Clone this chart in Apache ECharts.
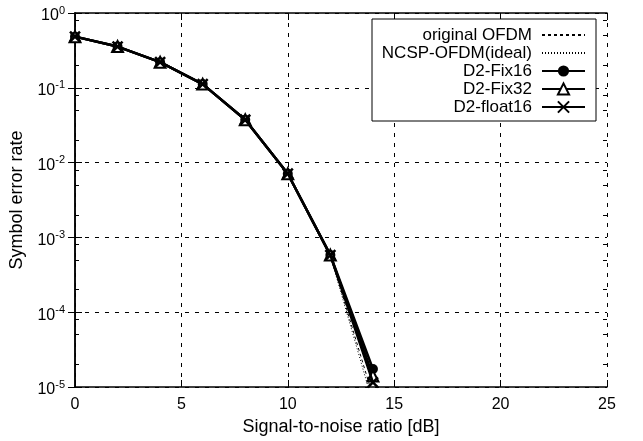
<!DOCTYPE html>
<html>
<head>
<meta charset="utf-8">
<script src="https://cdn.jsdelivr.net/npm/echarts@6/dist/echarts.min.js"></script>
<style>html,body{margin:0;padding:0;background:#fff}#c{width:643px;height:441px}</style>
</head>
<body>
<div id="c"></div>
<script>
// ---- data ----
const snr = [0, 2, 4, 6, 8, 10, 12, 14];
const originalOFDM = [0.483, 0.356, 0.220, 0.112, 0.0374, 0.0071, 5.8e-4, 7.5e-6];
const ncspIdeal    = [0.483, 0.356, 0.220, 0.112, 0.0374, 0.0071, 5.7e-4, 6.0e-6];
const d2Fix16      = [0.483, 0.356, 0.220, 0.112, 0.0374, 0.0071, 5.8e-4, 1.74e-5];
const d2Fix32      = [0.483, 0.356, 0.220, 0.112, 0.0374, 0.0071, 5.8e-4, 1.4e-5];
const d2Float16    = [0.483, 0.356, 0.220, 0.112, 0.0374, 0.0071, 5.8e-4, 1.15e-5];
const seriesNames = ['original OFDM', 'NCSP-OFDM(ideal)', 'D2-Fix16', 'D2-Fix32', 'D2-float16'];
const xTicks = [0, 5, 10, 15, 20, 25];
const yDecades = [-5, -4, -3, -2, -1, 0];
const minorMultipliers = [2, 5, 8];
// ---------------

const minorVals = [];
yDecades.slice(0, -1).forEach(e => minorMultipliers.forEach(m => minorVals.push(m * Math.pow(10, e))));

const FONT = 'Liberation Sans';
const pair = arr => snr.map((x, i) => [x, arr[i]]);
const crossPath = 'path://M0,0L10,10M10,0L0,10';
const noSymbol = {itemStyle: {opacity: 0}};

const chart = echarts.init(document.getElementById('c'), null, {renderer: 'canvas'});

const baseY = {
  type: 'log', logBase: 10,
  min: Math.pow(10, yDecades[0]), max: Math.pow(10, yDecades[yDecades.length - 1]),
  gridIndex: 0
};

chart.setOption({
  animation: false,
  backgroundColor: '#fff',
  grid: {left: 75, right: 36, top: 13, bottom: 54, containLabel: false, outerBoundsMode: 'none'},
  legend: {
    orient: 'vertical', left: 372, top: 19, align: 'right',
    itemWidth: 43, itemHeight: 14, itemGap: 0,
    padding: [7, 10, 5, 5],
    borderColor: '#000', borderWidth: 1, backgroundColor: '#fff',
    data: [
      Object.assign({name: seriesNames[0]}, noSymbol),
      Object.assign({name: seriesNames[1]}, noSymbol),
      seriesNames[2], seriesNames[3], seriesNames[4]
    ],
    textStyle: {fontFamily: FONT, fontSize: 17, color: '#000', width: 155, align: 'right', lineHeight: 18, padding: [0, 5, 0, 0]}
  },
  xAxis: [
    {
      type: 'value', min: xTicks[0], max: xTicks[xTicks.length - 1], interval: 5,
      name: 'Signal-to-noise ratio [dB]', nameLocation: 'middle', nameGap: 29,
      nameTextStyle: {fontFamily: FONT, fontSize: 18, color: '#000'},
      axisLine: {lineStyle: {color: '#000', width: 1.5}},
      axisTick: {inside: true, length: 7, lineStyle: {color: '#000', width: 1}},
      axisLabel: {fontFamily: FONT, fontSize: 16, color: '#000', margin: 10},
      splitLine: {show: true, lineStyle: {color: '#000', width: 1, type: [4, 6]}}
    },
    {
      type: 'value', position: 'top', min: xTicks[0], max: xTicks[xTicks.length - 1], interval: 5,
      axisLine: {show: true, onZero: false, lineStyle: {color: '#000', width: 1.5}},
      axisTick: {inside: true, length: 7, lineStyle: {color: '#000', width: 1}},
      axisLabel: {show: false}, splitLine: {show: false}
    }
  ],
  yAxis: [
    Object.assign({}, baseY, {
      position: 'left',
      name: 'Symbol error rate', nameLocation: 'middle', nameGap: 44, nameRotate: 90,
      nameTextStyle: {fontFamily: FONT, fontSize: 18, color: '#000'},
      axisLine: {show: true, lineStyle: {color: '#000', width: 1.5}},
      axisTick: {inside: true, length: 7, lineStyle: {color: '#000', width: 1}},
      axisLabel: {
        margin: 10,
        formatter: v => '{b|10}{s|' + Math.round(Math.log10(v)) + '}',
        rich: {
          b: {fontFamily: FONT, fontSize: 16, color: '#000', verticalAlign: 'bottom', lineHeight: 22},
          s: {fontFamily: FONT, fontSize: 11, color: '#000', verticalAlign: 'bottom', lineHeight: 22, padding: [0, 0, 8, 0]}
        }
      },
      splitLine: {show: true, lineStyle: {color: '#000', width: 1, type: [4, 6]}}
    }),
    Object.assign({}, baseY, {
      position: 'right',
      axisLine: {show: true, lineStyle: {color: '#000', width: 1.5}},
      axisTick: {inside: true, length: 7, lineStyle: {color: '#000', width: 1}},
      axisLabel: {show: false}, splitLine: {show: false}
    }),
    Object.assign({}, baseY, {
      position: 'left',
      axisLine: {show: false},
      axisTick: {inside: true, length: 4, customValues: minorVals, lineStyle: {color: '#000', width: 1}},
      axisLabel: {show: false}, splitLine: {show: false}
    }),
    Object.assign({}, baseY, {
      position: 'right',
      axisLine: {show: false},
      axisTick: {inside: true, length: 4, customValues: minorVals, lineStyle: {color: '#000', width: 1}},
      axisLabel: {show: false}, splitLine: {show: false}
    })
  ],
  series: [
    {
      name: seriesNames[0], type: 'line', data: pair(originalOFDM), symbol: 'none',
      lineStyle: {color: '#000', width: 1, type: [3, 3]}, itemStyle: {color: '#000'}, z: 3
    },
    {
      name: seriesNames[1], type: 'line', data: pair(ncspIdeal), symbol: 'none',
      lineStyle: {color: '#000', width: 1, type: [1, 2]}, itemStyle: {color: '#000'}, z: 3
    },
    {
      name: seriesNames[2], type: 'line', data: pair(d2Fix16), symbol: 'circle', symbolSize: 10,
      lineStyle: {color: '#000', width: 2.5}, itemStyle: {color: '#000'}, z: 4
    },
    {
      name: seriesNames[3], type: 'line', data: pair(d2Fix32), symbol: 'triangle', symbolSize: 11,
      lineStyle: {color: '#000', width: 2.5}, itemStyle: {color: '#fff', borderColor: '#000', borderWidth: 2}, z: 5
    },
    {
      name: seriesNames[4], type: 'line', data: pair(d2Float16), symbol: crossPath, symbolSize: 10,
      lineStyle: {color: '#000', width: 2.5}, itemStyle: {color: '#000', borderColor: '#000', borderWidth: 2.5}, z: 6
    }
  ]
});
</script>
</body>
</html>
